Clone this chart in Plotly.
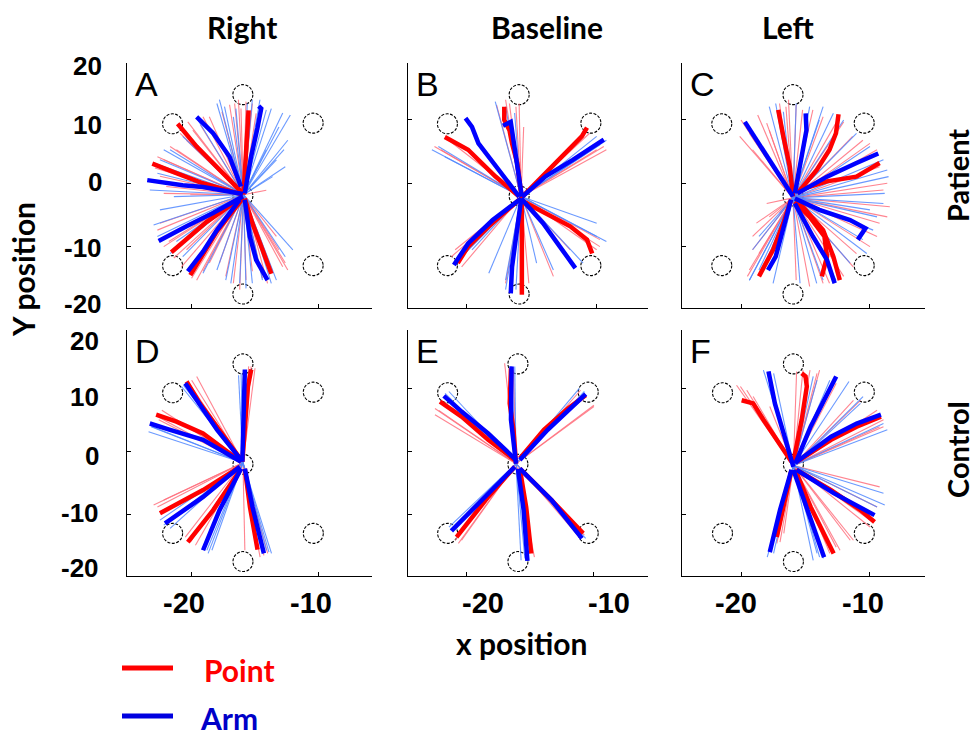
import plotly.graph_objects as go

# ---------------- data ----------------
panel_letters = ["A", "B", "C", "D", "E", "F"]
col_titles = ["Right", "Baseline", "Left"]
row_titles = ["Patient", "Control"]
x_tick_text = ["-20", "-10"]
y_tick_text = ["20", "10", "0", "-10", "-20"]

# target circles (same layout in every panel)
targets_x = [-15.95, -21.5, -10.4, -21.5, -10.4, -15.95, -15.95]
targets_y = [14.0, 9.4, 9.5, -13.0, -13.0, -17.5, -2.0]

# start point of the single trials in each panel
centers_x = [-15.9, -15.8, -15.95, -15.95, -16.1, -15.95]
centers_y = [-1.8, -2.1, -2.3, -1.75, -1.9, -2.2]

# mean trajectories: Point (red) and Arm (blue)
point_A = [
    [(-15.9, -1.8), (-15.7, 3.7), (-15.6, 7.9), (-15.5, 11.5)],
    [(-15.95, -1.6), (-18.0, 2.6), (-19.6, 5.8), (-21.1, 9.4)],
    [(-15.95, -1.8), (-19.1, 0.0), (-21.2, 1.6), (-23.1, 3.1)],
    [(-15.95, -2.1), (-18.8, -6.1), (-21.6, -10.9)],
    [(-15.95, -2.4), (-18.0, -7.6), (-20.1, -14.5)],
    [(-15.8, -2.4), (-15.2, -6.3), (-14.4, -10.5), (-13.7, -14.3)],
]
arm_A = [
    [(-15.8, -1.6), (-15.3, 4.2), (-14.8, 8.7), (-14.5, 11.8), (-14.7, 12.2)],
    [(-16.1, -0.5), (-17.0, 4.2), (-18.3, 7.9), (-19.6, 10.5)],
    [(-15.95, -1.7), (-19.1, -0.6), (-20.7, -0.3), (-23.5, 0.5)],
    [(-15.95, -2.1), (-18.3, -4.7), (-20.4, -6.8), (-22.6, -9.1)],
    [(-16.2, -2.6), (-18.0, -7.4), (-19.1, -10.8), (-20.3, -13.9)],
    [(-15.8, -2.6), (-15.4, -8.4), (-14.9, -12.1), (-14.0, -15.3)],
]
point_B = [
    [(-15.74, -2.4), (-16.1, 3.2), (-16.5, 6.3), (-16.7, 8.4), (-17.1, 10.0), (-17.1, 12.1)],
    [(-15.95, -2.1), (-17.8, 1.1), (-19.9, 5.3), (-21.2, 6.8), (-21.7, 7.3)],
    [(-15.7, -2.1), (-13.9, 1.6), (-12.0, 5.3), (-11.1, 7.4), (-10.7, 8.8)],
    [(-15.95, -2.6), (-18.3, -6.8), (-19.9, -10.0), (-20.7, -12.6)],
    [(-15.74, -2.6), (-15.7, -8.4), (-15.74, -13.2), (-15.74, -17.6)],
    [(-15.6, -2.9), (-13.9, -4.7), (-12.0, -6.8), (-10.7, -8.9), (-10.3, -11.1)],
]
arm_B = [
    [(-15.74, -2.1), (-16.1, 3.2), (-16.4, 7.4), (-16.6, 9.7), (-17.2, 9.1)],
    [(-15.95, -2.1), (-17.5, 2.1), (-19.1, 6.3), (-19.6, 8.9), (-20.1, 10.3)],
    [(-15.7, -2.1), (-13.9, 1.1), (-11.8, 3.7), (-10.2, 5.8), (-9.4, 6.9)],
    [(-15.8, -2.4), (-18.0, -5.8), (-19.9, -9.5), (-21.0, -12.9)],
    [(-15.8, -2.6), (-16.2, -8.4), (-16.5, -13.2), (-16.6, -17.4)],
    [(-15.8, -2.4), (-14.1, -6.3), (-12.8, -10.0), (-11.6, -13.4)],
]
point_C = [
    [(-15.95, -2.1), (-16.2, 2.6), (-16.7, 7.4), (-17.1, 11.6)],
    [(-15.6, -1.6), (-14.1, 2.1), (-13.1, 5.3), (-12.6, 7.9), (-12.4, 10.9)],
    [(-15.4, -1.05), (-13.3, 0.3), (-11.0, 1.05), (-9.2, 3.2)],
    [(-16.1, -2.6), (-16.7, -6.3), (-17.5, -10.5), (-18.6, -14.7)],
    [(-15.8, -2.9), (-14.65, -5.3), (-13.5, -8.4), (-13.3, -11.6), (-13.7, -14.7)],
    [(-15.4, -3.2), (-13.6, -7.4), (-12.8, -11.6), (-12.3, -15.3)],
]
arm_C = [
    [(-15.95, -2.1), (-17.3, 2.1), (-18.8, 6.8), (-19.7, 9.7)],
    [(-15.8, -1.6), (-15.3, 3.7), (-14.9, 8.4), (-14.96, 11.05)],
    [(-15.6, -1.6), (-13.3, 1.05), (-11.0, 3.2), (-9.3, 4.7)],
    [(-15.8, -2.4), (-13.9, -4.2), (-11.5, -5.8), (-10.3, -7.1), (-10.9, -8.9)],
    [(-16.1, -2.6), (-16.7, -7.4), (-17.3, -11.6), (-17.9, -13.7)],
    [(-15.8, -3.2), (-14.4, -8.4), (-13.3, -12.1), (-12.7, -15.8)],
]
point_D = [
    [(-16.0, -1.6), (-15.8, 5.1), (-15.56, 10.4), (-15.3, 13.1)],
    [(-16.1, -1.3), (-18.0, 4.0), (-19.35, 7.7), (-20.4, 11.2)],
    [(-16.1, -1.6), (-19.1, 2.9), (-21.2, 4.8), (-22.8, 5.9)],
    [(-16.2, -2.4), (-19.1, -6.1), (-22.5, -9.8)],
    [(-16.1, -2.7), (-18.3, -9.3), (-20.3, -14.4)],
    [(-15.8, -2.7), (-15.4, -8.8), (-14.8, -15.6)],
]
arm_D = [
    [(-16.0, -1.6), (-15.9, 5.1), (-15.8, 13.1)],
    [(-16.1, -1.3), (-18.0, 3.5), (-20.5, 10.9)],
    [(-16.1, -1.6), (-19.1, 1.9), (-21.7, 3.5), (-23.3, 4.5)],
    [(-16.2, -2.4), (-19.1, -7.2), (-22.1, -11.4)],
    [(-16.1, -2.7), (-17.8, -9.3), (-19.1, -15.7)],
    [(-15.8, -2.7), (-15.2, -8.8), (-14.3, -16.2)],
]
point_E = [
    [(-16.1, -1.9), (-16.3, 3.5), (-16.6, 7.7), (-16.5, 13.3)],
    [(-16.2, -1.3), (-18.3, 1.9), (-20.4, 5.6), (-22.1, 8.0)],
    [(-15.8, -1.05), (-13.9, 3.5), (-12.0, 6.9), (-10.6, 9.0)],
    [(-16.2, -2.4), (-18.3, -7.2), (-20.8, -13.6)],
    [(-15.8, -2.7), (-15.3, -8.8), (-14.9, -16.2)],
    [(-15.8, -2.7), (-13.3, -7.7), (-10.8, -13.0)],
]
arm_E = [
    [(-16.1, -1.9), (-16.5, 5.1), (-16.45, 13.6)],
    [(-16.1, -1.3), (-18.3, 2.9), (-20.4, 6.4), (-21.8, 8.9)],
    [(-15.8, -1.3), (-13.6, 3.5), (-11.8, 6.9), (-10.6, 9.2)],
    [(-16.2, -2.4), (-18.3, -6.6), (-21.2, -12.6)],
    [(-15.95, -2.7), (-15.5, -9.3), (-15.2, -17.4)],
    [(-15.8, -2.7), (-13.3, -7.7), (-10.9, -13.8)],
]
point_F = [
    [(-16.1, -1.6), (-17.3, 1.9), (-18.3, 5.1), (-19.1, 7.7), (-20.0, 8.2)],
    [(-15.95, -1.6), (-15.3, 5.1), (-14.9, 10.4), (-15.0, 12.0), (-15.3, 12.5)],
    [(-15.7, -1.6), (-13.0, 1.9), (-11.0, 4.0), (-9.1, 5.6)],
    [(-15.7, -2.9), (-13.0, -6.1), (-10.7, -9.3), (-9.6, -11.2)],
    [(-15.8, -2.9), (-14.6, -8.8), (-12.8, -16.2)],
    [(-16.1, -2.9), (-16.7, -8.8), (-17.1, -12.0), (-17.25, -13.6)],
]
arm_F = [
    [(-15.95, -2.4), (-16.7, 2.9), (-17.4, 7.7), (-17.9, 12.8)],
    [(-15.8, -1.9), (-14.6, 4.0), (-13.55, 8.2), (-12.6, 12.0)],
    [(-15.7, -1.6), (-13.0, 2.4), (-11.0, 4.5), (-9.1, 5.9)],
    [(-15.7, -2.9), (-12.8, -6.6), (-9.6, -10.1)],
    [(-15.95, -2.9), (-14.9, -8.8), (-13.55, -16.8)],
    [(-16.1, -2.9), (-17.0, -9.3), (-17.8, -16.0)],
]

# end points of the single trials (thin lines), Point (red) and Arm (blue)
trials_point_A = [(-16.3, 13.2), (-15.7, 12.9), (-15.2, 12.6), (-14.6, 11.8), (-17.0, 12.4), (-17.6, 11.3),
                  (-18.6, 10.5), (-19.3, 9.2), (-20.3, 9.7), (-20.9, 7.9), (-21.7, 5.8), (-22.7, 4.2),
                  (-22.9, 2.4), (-22.5, 1.1), (-22.0, -0.5), (-20.1, -1.8), (-22.5, -6.3), (-22.2, -10.0),
                  (-21.4, -11.8), (-20.8, -13.2), (-20.0, -15.0), (-19.1, -13.9), (-17.8, -12.6), (-16.7, -15.8),
                  (-15.7, -15.3), (-14.4, -15.0), (-13.6, -13.9), (-12.8, -13.2), (-12.4, -13.7), (-13.1, -10.5),
                  (-14.1, -1.1), (-16.6, 12.6), (-16.1, 11.8), (-15.3, 11.6), (-14.9, 11.05), (-19.1, 10.5),
                  (-19.9, 8.4), (-20.4, 6.8), (-21.2, 5.3), (-22.2, 3.7), (-23.0, 0.3), (-22.2, -1.6),
                  (-22.7, -7.4), (-21.8, -9.2), (-20.4, -10.5), (-19.6, -15.3), (-18.6, -12.6), (-17.3, -14.7),
                  (-16.2, -16.8), (-15.2, -13.9), (-14.0, -15.8), (-12.6, -12.6), (-13.3, -8.4)]
trials_arm_A = [(-18.0, 12.6), (-17.4, 12.1), (-16.7, 10.5), (-15.6, 12.6), (-14.6, 13.2), (-13.7, 11.8),
                (-12.8, 11.1), (-12.2, 10.8), (-12.4, 6.8), (-13.3, 3.7), (-12.6, 2.6), (-14.1, 5.3),
                (-19.5, 10.0), (-20.7, 7.4), (-21.7, 5.3), (-22.5, 3.7), (-22.7, 1.6), (-21.4, -2.1),
                (-23.0, -6.6), (-22.0, -8.4), (-21.2, -9.2), (-21.7, -11.1), (-19.6, -12.6), (-19.1, -14.2),
                (-18.0, -13.7), (-16.9, -15.8), (-16.2, -15.8), (-15.2, -15.8), (-14.4, -15.3), (-13.3, -15.3),
                (-12.6, -11.6), (-17.8, 13.2), (-16.5, 11.8), (-15.2, 13.2), (-14.1, 11.6), (-13.1, 8.9),
                (-12.7, 5.3), (-13.6, 1.05), (-20.9, 8.9), (-22.2, 5.3), (-23.0, 3.2), (-23.3, -1.05),
                (-22.5, -4.2), (-22.7, -8.4), (-20.7, -11.6), (-17.3, -15.3), (-15.7, -16.6), (-14.65, -13.2),
                (-13.7, -15.8), (-12.0, -10.5)]
trials_point_B = [(-17.7, 12.4), (-16.7, 12.6), (-15.95, 12.6), (-15.6, 8.9), (-21.4, 6.8), (-22.5, 5.8),
                  (-10.5, 7.9), (-9.95, 5.3), (-9.2, 5.3), (-20.9, -10.5), (-20.4, -13.2), (-17.0, -15.8),
                  (-15.2, -15.8), (-13.3, -14.7), (-9.95, -10.5), (-9.7, -8.9), (-12.0, -10.5),
                  (-17.0, 13.2), (-16.2, 12.1), (-22.0, 5.3), (-9.4, 5.8), (-21.2, -11.6), (-15.7, -16.8),
                  (-16.5, -14.7), (-9.7, -10.0)]
trials_arm_B = [(-17.8, 12.9), (-16.3, 11.1), (-22.7, 5.3), (-21.7, 4.2), (-9.95, 7.4), (-9.7, 6.1),
                (-20.9, -12.6), (-19.6, -10.5), (-18.3, -14.2), (-17.0, -15.3), (-16.2, -16.8), (-14.6, -12.6),
                (-9.2, -9.2), (-9.95, -6.3), (-13.3, -13.7), (-17.0, 12.1), (-22.2, 5.8), (-9.2, 6.8),
                (-20.4, -11.6), (-17.0, -16.8), (-9.95, -8.4), (-11.0, -12.6)]
trials_point_C = [(-20.0, 10.0), (-19.35, 7.9), (-19.1, 5.3), (-17.8, 8.4), (-17.0, 12.6), (-16.3, 13.2),
                  (-15.7, 12.4), (-14.4, 11.6), (-12.0, 9.7), (-11.3, 7.4), (-9.95, 6.3), (-9.2, 2.6),
                  (-8.9, -1.05), (-8.6, -5.3), (-9.4, -8.4), (-11.0, -11.1), (-12.0, -14.7), (-13.1, -15.8),
                  (-14.65, -16.3), (-19.1, -8.4), (-18.6, -11.1), (-19.5, -14.7), (-18.0, -3.2), (-17.0, -4.7),
                  (-19.6, 8.9), (-20.1, 7.4), (-18.7, 10.8), (-18.0, 9.5), (-16.5, 12.1), (-15.2, 11.6),
                  (-13.6, 10.5), (-12.6, 9.5), (-10.5, 6.8), (-9.4, 5.3), (-8.6, 0.0), (-8.4, -3.7),
                  (-9.2, -6.3), (-9.95, -10.0), (-11.25, -13.2), (-13.6, -15.8), (-15.7, -15.3), (-19.35, -13.7),
                  (-18.8, -6.3), (-17.8, -5.3), (-19.1, -10.5)]
trials_arm_C = [(-17.8, 12.1), (-16.7, 11.3), (-14.65, 12.1), (-13.9, 10.0), (-12.8, 11.05), (-11.0, 7.9),
                (-8.9, 3.7), (-8.5, 1.05), (-8.9, -3.2), (-9.95, -4.2), (-9.7, -7.4), (-10.2, -11.1),
                (-12.6, -15.3), (-14.1, -15.8), (-18.0, -12.1), (-19.35, -15.3), (-18.6, -8.4), (-17.5, -15.8),
                (-17.3, 12.6), (-15.7, 12.6), (-13.6, 12.1), (-12.0, 10.0), (-9.95, 5.8), (-8.6, 2.1),
                (-8.8, -1.6), (-9.4, -5.3), (-10.5, -8.9), (-11.5, -12.6), (-13.6, -15.3), (-15.4, -15.8),
                (-18.6, -13.7), (-19.1, -10.5), (-19.35, -15.3)]
trials_point_D = [(-15.5, 13.6), (-15.0, 13.3), (-19.6, 12.0), (-20.1, 10.6), (-22.35, 6.6), (-22.6, 5.1),
                  (-23.0, -8.5), (-22.2, -7.7), (-20.5, -13.6), (-19.7, -14.9), (-14.6, -16.8), (-14.0, -16.2),
                  (-15.8, -15.7), (-15.3, 13.6), (-20.0, 11.4), (-22.7, 5.6), (-22.7, -8.8), (-20.1, -14.4),
                  (-14.3, -16.5)]
trials_arm_D = [(-16.3, 12.2), (-16.1, 12.5), (-20.8, 10.4), (-23.4, 3.2), (-23.1, 4.0), (-22.5, -10.9),
                (-21.7, -12.2), (-18.7, -16.2), (-18.4, -15.7), (-13.7, -16.2), (-14.1, -15.7), (-15.8, 13.0),
                (-20.65, 10.6), (-23.2, 4.0), (-22.2, -11.7), (-18.8, -15.7), (-13.9, -16.0)]
trials_point_E = [(-17.0, 14.1), (-16.3, 13.0), (-22.5, 6.9), (-22.5, 5.9), (-9.95, 7.4), (-11.0, 9.8),
                  (-20.65, -14.6), (-20.4, -14.1), (-14.65, -16.8), (-14.9, -15.7), (-11.1, -13.6),
                  (-22.2, 6.6), (-9.95, 7.2), (-20.9, -14.1), (-14.8, -16.2), (-10.7, -13.3)]
trials_arm_E = [(-16.2, 13.6), (-21.4, 9.6), (-11.1, 10.1), (-21.4, -12.0), (-15.7, -17.3), (-10.6, -13.8),
                (-21.7, 9.3), (-10.7, 9.6), (-21.3, -12.5), (-15.4, -17.0), (-10.9, -13.6), (-16.5, 13.6)]
trials_point_F = [(-20.4, 10.6), (-19.6, 9.8), (-15.7, 12.8), (-14.65, 13.0), (-14.1, 12.5), (-10.7, 8.2),
                  (-8.9, 5.1), (-9.2, 4.0), (-9.4, -8.8), (-9.95, -12.0), (-11.5, -14.1), (-12.3, -15.7),
                  (-17.0, -12.0), (-17.0, -14.4), (-13.1, -16.2), (-20.1, 10.4), (-19.1, 8.8), (-17.8, 7.2),
                  (-15.2, 13.0), (-13.9, 13.0), (-12.6, 10.9), (-11.25, 8.2), (-9.4, 6.6), (-8.9, 4.0),
                  (-9.2, -5.6), (-9.95, -10.9), (-11.25, -14.1), (-12.6, -15.2), (-16.7, -13.0), (-17.25, -14.6)]
trials_arm_F = [(-18.3, 13.0), (-17.5, 12.5), (-14.1, 11.4), (-11.6, 11.2), (-10.7, 7.7), (-8.6, 3.5),
                (-8.8, -8.5), (-9.95, -9.8), (-14.4, -17.3), (-18.0, -16.8), (-17.5, -13.0), (-13.9, -16.8),
                (-18.0, 12.5), (-17.8, 10.4), (-14.4, 12.0), (-13.1, 11.4), (-10.5, 8.8), (-8.9, 4.5),
                (-8.9, -6.6), (-9.4, -8.8), (-13.6, -17.0), (-14.1, -16.2), (-17.8, -15.7), (-17.5, -16.2)]

points_mean = [point_A, point_B, point_C, point_D, point_E, point_F]
arms_mean = [arm_A, arm_B, arm_C, arm_D, arm_E, arm_F]
points_trials = [trials_point_A, trials_point_B, trials_point_C, trials_point_D, trials_point_E, trials_point_F]
arms_trials = [trials_arm_A, trials_arm_B, trials_arm_C, trials_arm_D, trials_arm_E, trials_arm_F]

# ---------------- layout ----------------
W, H = 975, 735
col_px = [(127, 372), (408, 648), (682, 925)]
row_px = [(63, 308), (330, 576)]
x_ranges = [(-25.1, -5.75), (-24.55, -5.98), (-24.6, -5.66), (-25.1, -5.77), (-24.63, -5.68), (-24.67, -5.65)]
y_ranges = [(-19.7, 19.0), (-19.8, 19.4)]

RED, BLUE = "#ff0000", "#0000ff"
RED_L, BLUE_L = "rgba(255,110,125,0.85)", "rgba(80,135,255,0.85)"
TICK_FONT = "Liberation Sans, Arial, sans-serif"
LABEL_FONT = "Lato, Calibri, sans-serif"

fig = go.Figure()
layout = dict(width=W, height=H, margin=dict(l=0, r=0, t=0, b=0), paper_bgcolor="white",
              plot_bgcolor="rgba(0,0,0,0)", showlegend=False)
shapes, annotations = [], []


def lines_xy(paths):
    xs, ys = [], []
    for p in paths:
        for (x, y) in p:
            xs.append(x)
            ys.append(y)
        xs.append(None)
        ys.append(None)
    return xs, ys


def fan_xy(cx, cy, ends):
    xs, ys = [], []
    for (x, y) in ends:
        xs += [cx, x, None]
        ys += [cy, y, None]
    return xs, ys


for i in range(6):
    r, c = divmod(i, 3)
    n = "" if i == 0 else str(i + 1)
    xa, ya = "x" + n, "y" + n
    x0p, x1p = col_px[c]
    y0p, y1p = row_px[r]
    layout["xaxis" + n] = dict(domain=[x0p / W, x1p / W], range=list(x_ranges[i]), anchor=ya,
                               showline=True, linecolor="black", linewidth=1, ticks="inside", ticklen=4,
                               tickcolor="black", tickvals=[-20, -10], showticklabels=False,
                               showgrid=False, zeroline=False, fixedrange=True)
    layout["yaxis" + n] = dict(domain=[1 - y1p / H, 1 - y0p / H], range=list(y_ranges[r]), anchor=xa,
                               showline=True, linecolor="black", linewidth=1, ticks="inside", ticklen=4,
                               tickcolor="black", tickvals=[-10, 0, 10], showticklabels=False,
                               showgrid=False, zeroline=False, fixedrange=True)

    # thin single trials
    xs, ys = fan_xy(centers_x[i], centers_y[i], points_trials[i])
    fig.add_trace(go.Scatter(x=xs, y=ys, mode="lines", line=dict(color=RED_L, width=1.1), xaxis=xa, yaxis=ya,
                             hoverinfo="skip"))
    xs, ys = fan_xy(centers_x[i], centers_y[i], arms_trials[i])
    fig.add_trace(go.Scatter(x=xs, y=ys, mode="lines", line=dict(color=BLUE_L, width=1.1), xaxis=xa, yaxis=ya,
                             hoverinfo="skip"))
    # thick mean trajectories
    xs, ys = lines_xy(points_mean[i])
    fig.add_trace(go.Scatter(x=xs, y=ys, mode="lines", line=dict(color=RED, width=4.5), xaxis=xa, yaxis=ya,
                             name="Point"))
    xs, ys = lines_xy(arms_mean[i])
    fig.add_trace(go.Scatter(x=xs, y=ys, mode="lines", line=dict(color=BLUE, width=4.5), xaxis=xa, yaxis=ya,
                             name="Arm"))

    # target circles (dashed)
    px_per_x = (x1p - x0p) / (x_ranges[i][1] - x_ranges[i][0])
    px_per_y = (y1p - y0p) / (y_ranges[r][1] - y_ranges[r][0])
    rx, ry = 10 / px_per_x, 10 / px_per_y
    for tx, ty in zip(targets_x, targets_y):
        shapes.append(dict(type="circle", xref=xa, yref=ya, x0=tx - rx, x1=tx + rx, y0=ty - ry, y1=ty + ry,
                           line=dict(color="black", width=1.1, dash="3px,1.5px"), layer="below"))

    # panel letter
    annotations.append(dict(text=panel_letters[i], xref=xa + " domain", yref=ya + " domain",
                            x=0.025, y=1.0, xanchor="left", yanchor="top", showarrow=False,
                            font=dict(family=TICK_FONT, size=34, color="black")))

# y tick labels (left column), placed as in the picture
ylab_px = [[66, 124.5, 182.5, 247.5, 304], [341, 397, 456, 513, 568]]
ylab_right = [104, 101]
for r in range(2):
    for t, py in zip(y_tick_text, ylab_px[r]):
        annotations.append(dict(text="<b>" + t + "</b>", xref="paper", yref="paper", x=ylab_right[r] / W,
                                y=1 - py / H, xanchor="right", yanchor="middle", showarrow=False,
                                font=dict(family=TICK_FONT, size=26, color="black")))
# x tick labels (bottom row)
xlab_px = [[184, 311], [483, 609], [736, 862.5]]
for c in range(3):
    for t, px in zip(x_tick_text, xlab_px[c]):
        annotations.append(dict(text="<b>" + t + "</b>", xref="paper", yref="paper", x=px / W,
                                y=1 - 603 / H, xanchor="center", yanchor="middle", showarrow=False,
                                font=dict(family=TICK_FONT, size=29, color="black")))

# titles
title_x_px = [242, 547, 788]
for t, px in zip(col_titles, title_x_px):
    annotations.append(dict(text="<b>" + t + "</b>", xref="paper", yref="paper", x=px / W, y=1 - 27 / H,
                            xanchor="center", yanchor="middle", showarrow=False,
                            font=dict(family=LABEL_FONT, size=30, color="black")))
for t, py in zip(row_titles, [176, 450]):
    annotations.append(dict(text="<b>" + t + "</b>", xref="paper", yref="paper", x=957 / W, y=1 - py / H,
                            xanchor="center", yanchor="middle", textangle=-90, showarrow=False,
                            font=dict(family=LABEL_FONT, size=29, color="black")))
annotations.append(dict(text="<b>Y position</b>", xref="paper", yref="paper", x=23 / W, y=1 - 270 / H,
                        xanchor="center", yanchor="middle", textangle=-90, showarrow=False,
                        font=dict(family=LABEL_FONT, size=30, color="black")))
annotations.append(dict(text="<b>x position</b>", xref="paper", yref="paper", x=522 / W, y=1 - 643 / H,
                        xanchor="center", yanchor="middle", showarrow=False,
                        font=dict(family=LABEL_FONT, size=30, color="black")))

# legend (key drawn as in the picture)
legend_items = [("Point", RED, "#ff0000", 668, 202), ("Arm", "#0000e0", "#0000c8", 716, 198)]
for label, lcol, tcol, py, tx in legend_items:
    shapes.append(dict(type="line", xref="paper", yref="paper", x0=122 / W, x1=173 / W,
                       y0=1 - py / H, y1=1 - py / H, line=dict(color=lcol, width=5)))
    annotations.append(dict(text="<b>" + label + "</b>", xref="paper", yref="paper",
                            x=tx / W, y=1 - (py + 2) / H,
                            xanchor="left", yanchor="middle", showarrow=False,
                            font=dict(family=LABEL_FONT, size=30, color=tcol)))

layout["shapes"] = shapes
layout["annotations"] = annotations
fig.update_layout(**layout)
fig.write_html("out.html", config={"displayModeBar": False},
               post_script="document.body.style.margin='0';document.body.style.overflow='hidden';")
